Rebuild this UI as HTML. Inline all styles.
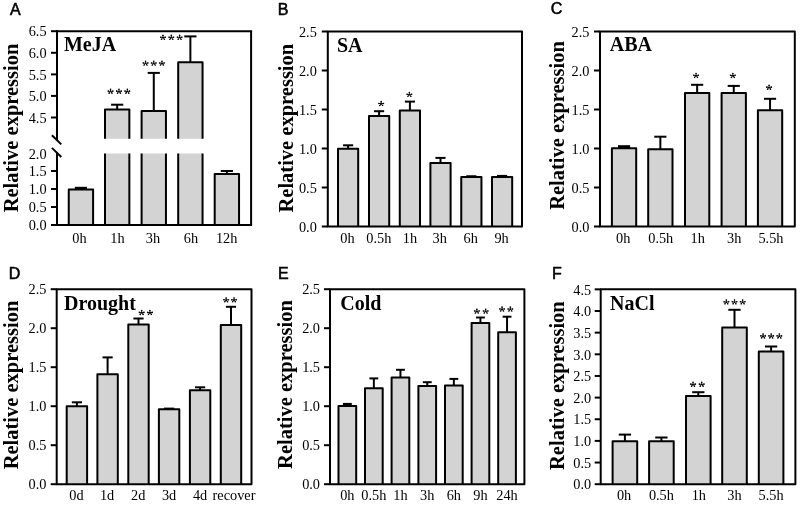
<!DOCTYPE html>
<html><head><meta charset="utf-8"><style>
html,body{margin:0;padding:0;background:#fff;overflow:hidden;}
svg{display:block;filter:grayscale(1);}
text{stroke:none;}
.tk{font-family:"Liberation Serif",serif;font-size:14.3px;fill:#000;}
.ti{font-family:"Liberation Serif",serif;font-size:20px;font-weight:bold;fill:#000;}
.yl{font-family:"Liberation Serif",serif;font-size:20.5px;font-weight:bold;fill:#000;}
.pl{font-family:"Liberation Sans",sans-serif;font-size:16px;font-weight:normal;fill:#000;stroke:#000;stroke-width:0.55px;}
</style></head><body>
<svg width="800" height="506" viewBox="0 0 800 506" stroke="#000" fill="none">
<g stroke="#000">
<path d="M68.75 225.00V189.50H93.10V225.00" fill="#d3d3d3" stroke-width="2.0" stroke-linejoin="round"/>
<rect x="74.84" y="186.80" width="12.18" height="2.70" fill="#000" stroke="none"/>
<rect x="105.00" y="109.60" width="24.35" height="29.20" fill="#d3d3d3" stroke="none"/>
<rect x="105.00" y="153.50" width="24.35" height="71.50" fill="#d3d3d3" stroke="none"/>
<path d="M105.00 138.80V109.60H129.35V138.80M105.00 225.00V153.50M129.35 153.50V225.00" fill="none" stroke-width="2.0" stroke-linejoin="round"/>
<line x1="117.17" y1="109.60" x2="117.17" y2="104.70" stroke-width="2.0" stroke-linecap="butt"/>
<line x1="111.09" y1="104.70" x2="123.26" y2="104.70" stroke-width="2.0" stroke-linecap="butt"/>
<rect x="141.60" y="110.90" width="24.35" height="27.90" fill="#d3d3d3" stroke="none"/>
<rect x="141.60" y="153.50" width="24.35" height="71.50" fill="#d3d3d3" stroke="none"/>
<path d="M141.60 138.80V110.90H165.95V138.80M141.60 225.00V153.50M165.95 153.50V225.00" fill="none" stroke-width="2.0" stroke-linejoin="round"/>
<line x1="153.78" y1="110.90" x2="153.78" y2="72.90" stroke-width="2.0" stroke-linecap="butt"/>
<line x1="147.69" y1="72.90" x2="159.86" y2="72.90" stroke-width="2.0" stroke-linecap="butt"/>
<rect x="178.20" y="62.20" width="24.35" height="76.60" fill="#d3d3d3" stroke="none"/>
<rect x="178.20" y="153.50" width="24.35" height="71.50" fill="#d3d3d3" stroke="none"/>
<path d="M178.20 138.80V62.20H202.55V138.80M178.20 225.00V153.50M202.55 153.50V225.00" fill="none" stroke-width="2.0" stroke-linejoin="round"/>
<line x1="190.38" y1="62.20" x2="190.38" y2="36.40" stroke-width="2.0" stroke-linecap="butt"/>
<line x1="184.29" y1="36.40" x2="196.46" y2="36.40" stroke-width="2.0" stroke-linecap="butt"/>
<path d="M214.70 225.00V174.00H239.05V225.00" fill="#d3d3d3" stroke-width="2.0" stroke-linejoin="round"/>
<line x1="226.88" y1="174.00" x2="226.88" y2="171.00" stroke-width="2.0" stroke-linecap="butt"/>
<line x1="220.79" y1="171.00" x2="232.96" y2="171.00" stroke-width="2.0" stroke-linecap="butt"/>
<line x1="56.00" y1="31.20" x2="252.10" y2="31.20" stroke-width="2.0" stroke-linecap="butt"/>
<line x1="251.10" y1="31.20" x2="251.10" y2="225.00" stroke-width="2.0" stroke-linecap="butt"/>
<line x1="51.00" y1="225.00" x2="252.10" y2="225.00" stroke-width="2.0" stroke-linecap="butt"/>
<line x1="57.00" y1="30.20" x2="57.00" y2="140.00" stroke-width="2.0" stroke-linecap="butt"/>
<line x1="57.00" y1="152.50" x2="57.00" y2="225.00" stroke-width="2.0" stroke-linecap="butt"/>
<line x1="51.90" y1="135.30" x2="61.30" y2="144.40" stroke-width="2.0" stroke-linecap="butt"/>
<line x1="51.90" y1="147.90" x2="61.30" y2="157.00" stroke-width="2.0" stroke-linecap="butt"/>
<line x1="51.00" y1="31.20" x2="57.00" y2="31.20" stroke-width="2.0" stroke-linecap="butt"/>
<text x="46.60" y="36.40" class="tk" text-anchor="end">6.5</text>
<line x1="51.00" y1="52.80" x2="57.00" y2="52.80" stroke-width="2.0" stroke-linecap="butt"/>
<text x="46.60" y="58.00" class="tk" text-anchor="end">6.0</text>
<line x1="51.00" y1="74.40" x2="57.00" y2="74.40" stroke-width="2.0" stroke-linecap="butt"/>
<text x="46.60" y="79.60" class="tk" text-anchor="end">5.5</text>
<line x1="51.00" y1="95.90" x2="57.00" y2="95.90" stroke-width="2.0" stroke-linecap="butt"/>
<text x="46.60" y="101.10" class="tk" text-anchor="end">5.0</text>
<line x1="51.00" y1="117.50" x2="57.00" y2="117.50" stroke-width="2.0" stroke-linecap="butt"/>
<text x="46.60" y="122.70" class="tk" text-anchor="end">4.5</text>
<line x1="51.00" y1="171.00" x2="57.00" y2="171.00" stroke-width="2.0" stroke-linecap="butt"/>
<text x="46.60" y="176.20" class="tk" text-anchor="end">1.5</text>
<line x1="51.00" y1="189.00" x2="57.00" y2="189.00" stroke-width="2.0" stroke-linecap="butt"/>
<text x="46.60" y="194.20" class="tk" text-anchor="end">1.0</text>
<line x1="51.00" y1="207.00" x2="57.00" y2="207.00" stroke-width="2.0" stroke-linecap="butt"/>
<text x="46.60" y="212.20" class="tk" text-anchor="end">0.5</text>
<line x1="51.00" y1="225.00" x2="57.00" y2="225.00" stroke-width="2.0" stroke-linecap="butt"/>
<text x="46.60" y="230.20" class="tk" text-anchor="end">0.0</text>
<text x="46.60" y="158.60" class="tk" text-anchor="end">2.0</text>
<text x="79.42" y="242.70" class="tk" text-anchor="middle">0h</text>
<text x="117.47" y="242.70" class="tk" text-anchor="middle">1h</text>
<text x="152.97" y="242.70" class="tk" text-anchor="middle">3h</text>
<text x="190.97" y="242.70" class="tk" text-anchor="middle">6h</text>
<text x="226.68" y="242.70" class="tk" text-anchor="middle">12h</text>
<text x="63.90" y="51.00" class="ti" text-anchor="start">MeJA</text>
<path d="M110.56 91.45L110.56 89.35M110.56 91.45L112.84 91.13M110.56 91.45L108.28 91.13M110.56 91.45L111.94 93.15M110.56 91.45L109.17 93.15" stroke-width="0.9" stroke-linecap="round" fill="none"/>
<circle cx="110.56" cy="89.35" r="0.78" fill="#000" stroke="none"/>
<circle cx="112.84" cy="91.13" r="0.78" fill="#000" stroke="none"/>
<circle cx="108.28" cy="91.13" r="0.78" fill="#000" stroke="none"/>
<circle cx="111.94" cy="93.15" r="0.78" fill="#000" stroke="none"/>
<circle cx="109.17" cy="93.15" r="0.78" fill="#000" stroke="none"/>
<path d="M118.95 91.45L118.95 89.35M118.95 91.45L121.23 91.13M118.95 91.45L116.67 91.13M118.95 91.45L120.33 93.15M118.95 91.45L117.57 93.15" stroke-width="0.9" stroke-linecap="round" fill="none"/>
<circle cx="118.95" cy="89.35" r="0.78" fill="#000" stroke="none"/>
<circle cx="121.23" cy="91.13" r="0.78" fill="#000" stroke="none"/>
<circle cx="116.67" cy="91.13" r="0.78" fill="#000" stroke="none"/>
<circle cx="120.33" cy="93.15" r="0.78" fill="#000" stroke="none"/>
<circle cx="117.57" cy="93.15" r="0.78" fill="#000" stroke="none"/>
<path d="M127.34 91.45L127.34 89.35M127.34 91.45L129.62 91.13M127.34 91.45L125.06 91.13M127.34 91.45L128.73 93.15M127.34 91.45L125.96 93.15" stroke-width="0.9" stroke-linecap="round" fill="none"/>
<circle cx="127.34" cy="89.35" r="0.78" fill="#000" stroke="none"/>
<circle cx="129.62" cy="91.13" r="0.78" fill="#000" stroke="none"/>
<circle cx="125.06" cy="91.13" r="0.78" fill="#000" stroke="none"/>
<circle cx="128.73" cy="93.15" r="0.78" fill="#000" stroke="none"/>
<circle cx="125.96" cy="93.15" r="0.78" fill="#000" stroke="none"/>
<path d="M145.56 63.35L145.56 61.25M145.56 63.35L147.84 63.03M145.56 63.35L143.28 63.03M145.56 63.35L146.94 65.05M145.56 63.35L144.17 65.05" stroke-width="0.9" stroke-linecap="round" fill="none"/>
<circle cx="145.56" cy="61.25" r="0.78" fill="#000" stroke="none"/>
<circle cx="147.84" cy="63.03" r="0.78" fill="#000" stroke="none"/>
<circle cx="143.28" cy="63.03" r="0.78" fill="#000" stroke="none"/>
<circle cx="146.94" cy="65.05" r="0.78" fill="#000" stroke="none"/>
<circle cx="144.17" cy="65.05" r="0.78" fill="#000" stroke="none"/>
<path d="M153.75 63.35L153.75 61.25M153.75 63.35L156.03 63.03M153.75 63.35L151.47 63.03M153.75 63.35L155.13 65.05M153.75 63.35L152.37 65.05" stroke-width="0.9" stroke-linecap="round" fill="none"/>
<circle cx="153.75" cy="61.25" r="0.78" fill="#000" stroke="none"/>
<circle cx="156.03" cy="63.03" r="0.78" fill="#000" stroke="none"/>
<circle cx="151.47" cy="63.03" r="0.78" fill="#000" stroke="none"/>
<circle cx="155.13" cy="65.05" r="0.78" fill="#000" stroke="none"/>
<circle cx="152.37" cy="65.05" r="0.78" fill="#000" stroke="none"/>
<path d="M161.94 63.35L161.94 61.25M161.94 63.35L164.22 63.03M161.94 63.35L159.66 63.03M161.94 63.35L163.33 65.05M161.94 63.35L160.56 65.05" stroke-width="0.9" stroke-linecap="round" fill="none"/>
<circle cx="161.94" cy="61.25" r="0.78" fill="#000" stroke="none"/>
<circle cx="164.22" cy="63.03" r="0.78" fill="#000" stroke="none"/>
<circle cx="159.66" cy="63.03" r="0.78" fill="#000" stroke="none"/>
<circle cx="163.33" cy="65.05" r="0.78" fill="#000" stroke="none"/>
<circle cx="160.56" cy="65.05" r="0.78" fill="#000" stroke="none"/>
<path d="M162.96 37.50L162.96 35.40M162.96 37.50L165.24 37.18M162.96 37.50L160.68 37.18M162.96 37.50L164.34 39.20M162.96 37.50L161.57 39.20" stroke-width="0.9" stroke-linecap="round" fill="none"/>
<circle cx="162.96" cy="35.40" r="0.78" fill="#000" stroke="none"/>
<circle cx="165.24" cy="37.18" r="0.78" fill="#000" stroke="none"/>
<circle cx="160.68" cy="37.18" r="0.78" fill="#000" stroke="none"/>
<circle cx="164.34" cy="39.20" r="0.78" fill="#000" stroke="none"/>
<circle cx="161.57" cy="39.20" r="0.78" fill="#000" stroke="none"/>
<path d="M171.30 37.50L171.30 35.40M171.30 37.50L173.58 37.18M171.30 37.50L169.02 37.18M171.30 37.50L172.68 39.20M171.30 37.50L169.92 39.20" stroke-width="0.9" stroke-linecap="round" fill="none"/>
<circle cx="171.30" cy="35.40" r="0.78" fill="#000" stroke="none"/>
<circle cx="173.58" cy="37.18" r="0.78" fill="#000" stroke="none"/>
<circle cx="169.02" cy="37.18" r="0.78" fill="#000" stroke="none"/>
<circle cx="172.68" cy="39.20" r="0.78" fill="#000" stroke="none"/>
<circle cx="169.92" cy="39.20" r="0.78" fill="#000" stroke="none"/>
<path d="M179.64 37.50L179.64 35.40M179.64 37.50L181.92 37.18M179.64 37.50L177.36 37.18M179.64 37.50L181.03 39.20M179.64 37.50L178.26 39.20" stroke-width="0.9" stroke-linecap="round" fill="none"/>
<circle cx="179.64" cy="35.40" r="0.78" fill="#000" stroke="none"/>
<circle cx="181.92" cy="37.18" r="0.78" fill="#000" stroke="none"/>
<circle cx="177.36" cy="37.18" r="0.78" fill="#000" stroke="none"/>
<circle cx="181.03" cy="39.20" r="0.78" fill="#000" stroke="none"/>
<circle cx="178.26" cy="39.20" r="0.78" fill="#000" stroke="none"/>
<text class="yl" transform="translate(17.80,127.95) rotate(-90)" text-anchor="middle" x="0" y="0">Relative expression</text>
<path d="M338.00 226.50V148.70H358.20V226.50" fill="#d3d3d3" stroke-width="2.0" stroke-linejoin="round"/>
<line x1="348.10" y1="148.70" x2="348.10" y2="145.30" stroke-width="2.0" stroke-linecap="butt"/>
<line x1="343.05" y1="145.30" x2="353.15" y2="145.30" stroke-width="2.0" stroke-linecap="butt"/>
<path d="M369.00 226.50V116.10H389.20V226.50" fill="#d3d3d3" stroke-width="2.0" stroke-linejoin="round"/>
<line x1="379.10" y1="116.10" x2="379.10" y2="111.20" stroke-width="2.0" stroke-linecap="butt"/>
<line x1="374.05" y1="111.20" x2="384.15" y2="111.20" stroke-width="2.0" stroke-linecap="butt"/>
<path d="M399.80 226.50V110.50H420.00V226.50" fill="#d3d3d3" stroke-width="2.0" stroke-linejoin="round"/>
<line x1="409.90" y1="110.50" x2="409.90" y2="101.60" stroke-width="2.0" stroke-linecap="butt"/>
<line x1="404.85" y1="101.60" x2="414.95" y2="101.60" stroke-width="2.0" stroke-linecap="butt"/>
<path d="M430.40 226.50V163.10H450.60V226.50" fill="#d3d3d3" stroke-width="2.0" stroke-linejoin="round"/>
<line x1="440.50" y1="163.10" x2="440.50" y2="157.90" stroke-width="2.0" stroke-linecap="butt"/>
<line x1="435.45" y1="157.90" x2="445.55" y2="157.90" stroke-width="2.0" stroke-linecap="butt"/>
<path d="M461.25 226.50V177.10H481.45V226.50" fill="#d3d3d3" stroke-width="2.0" stroke-linejoin="round"/>
<rect x="466.30" y="175.25" width="10.10" height="1.85" fill="#000" stroke="none"/>
<path d="M492.00 226.50V177.10H512.20V226.50" fill="#d3d3d3" stroke-width="2.0" stroke-linejoin="round"/>
<rect x="497.05" y="174.90" width="10.10" height="2.20" fill="#000" stroke="none"/>
<rect x="327.80" y="31.50" width="194.20" height="195.00" fill="none" stroke-width="2.0" stroke-linejoin="round"/>
<line x1="321.80" y1="226.50" x2="327.80" y2="226.50" stroke-width="2.0" stroke-linecap="butt"/>
<text x="316.80" y="231.70" class="tk" text-anchor="end">0.0</text>
<line x1="321.80" y1="187.50" x2="327.80" y2="187.50" stroke-width="2.0" stroke-linecap="butt"/>
<text x="316.80" y="192.70" class="tk" text-anchor="end">0.5</text>
<line x1="321.80" y1="148.50" x2="327.80" y2="148.50" stroke-width="2.0" stroke-linecap="butt"/>
<text x="316.80" y="153.70" class="tk" text-anchor="end">1.0</text>
<line x1="321.80" y1="109.50" x2="327.80" y2="109.50" stroke-width="2.0" stroke-linecap="butt"/>
<text x="316.80" y="114.70" class="tk" text-anchor="end">1.5</text>
<line x1="321.80" y1="70.50" x2="327.80" y2="70.50" stroke-width="2.0" stroke-linecap="butt"/>
<text x="316.80" y="75.70" class="tk" text-anchor="end">2.0</text>
<line x1="321.80" y1="31.50" x2="327.80" y2="31.50" stroke-width="2.0" stroke-linecap="butt"/>
<text x="316.80" y="36.70" class="tk" text-anchor="end">2.5</text>
<text x="347.50" y="242.60" class="tk" text-anchor="middle">0h</text>
<text x="378.80" y="242.60" class="tk" text-anchor="middle">0.5h</text>
<text x="409.90" y="242.60" class="tk" text-anchor="middle">1h</text>
<text x="439.70" y="242.60" class="tk" text-anchor="middle">3h</text>
<text x="470.75" y="242.60" class="tk" text-anchor="middle">6h</text>
<text x="501.60" y="242.60" class="tk" text-anchor="middle">9h</text>
<text x="337.00" y="52.30" class="ti" text-anchor="start">SA</text>
<text class="yl" transform="translate(292.50,128.15) rotate(-90)" text-anchor="middle" x="0" y="0">Relative expression</text>
<path d="M381.16 103.75L381.16 101.65M381.16 103.75L383.44 103.43M381.16 103.75L378.88 103.43M381.16 103.75L382.54 105.45M381.16 103.75L379.77 105.45" stroke-width="0.9" stroke-linecap="round" fill="none"/>
<circle cx="381.16" cy="101.65" r="0.78" fill="#000" stroke="none"/>
<circle cx="383.44" cy="103.43" r="0.78" fill="#000" stroke="none"/>
<circle cx="378.88" cy="103.43" r="0.78" fill="#000" stroke="none"/>
<circle cx="382.54" cy="105.45" r="0.78" fill="#000" stroke="none"/>
<circle cx="379.77" cy="105.45" r="0.78" fill="#000" stroke="none"/>
<path d="M409.36 94.60L409.36 92.50M409.36 94.60L411.64 94.28M409.36 94.60L407.08 94.28M409.36 94.60L410.74 96.30M409.36 94.60L407.97 96.30" stroke-width="0.9" stroke-linecap="round" fill="none"/>
<circle cx="409.36" cy="92.50" r="0.78" fill="#000" stroke="none"/>
<circle cx="411.64" cy="94.28" r="0.78" fill="#000" stroke="none"/>
<circle cx="407.08" cy="94.28" r="0.78" fill="#000" stroke="none"/>
<circle cx="410.74" cy="96.30" r="0.78" fill="#000" stroke="none"/>
<circle cx="407.97" cy="96.30" r="0.78" fill="#000" stroke="none"/>
<path d="M611.90 226.50V148.30H636.20V226.50" fill="#d3d3d3" stroke-width="2.0" stroke-linejoin="round"/>
<rect x="617.97" y="145.20" width="12.15" height="3.10" fill="#000" stroke="none"/>
<path d="M648.20 226.50V149.30H672.50V226.50" fill="#d3d3d3" stroke-width="2.0" stroke-linejoin="round"/>
<line x1="660.35" y1="149.30" x2="660.35" y2="136.70" stroke-width="2.0" stroke-linecap="butt"/>
<line x1="654.27" y1="136.70" x2="666.43" y2="136.70" stroke-width="2.0" stroke-linecap="butt"/>
<path d="M685.00 226.50V93.00H709.30V226.50" fill="#d3d3d3" stroke-width="2.0" stroke-linejoin="round"/>
<line x1="697.15" y1="93.00" x2="697.15" y2="84.80" stroke-width="2.0" stroke-linecap="butt"/>
<line x1="691.07" y1="84.80" x2="703.23" y2="84.80" stroke-width="2.0" stroke-linecap="butt"/>
<path d="M721.60 226.50V93.00H745.90V226.50" fill="#d3d3d3" stroke-width="2.0" stroke-linejoin="round"/>
<line x1="733.75" y1="93.00" x2="733.75" y2="85.90" stroke-width="2.0" stroke-linecap="butt"/>
<line x1="727.67" y1="85.90" x2="739.83" y2="85.90" stroke-width="2.0" stroke-linecap="butt"/>
<path d="M757.90 226.50V110.20H782.20V226.50" fill="#d3d3d3" stroke-width="2.0" stroke-linejoin="round"/>
<line x1="770.05" y1="110.20" x2="770.05" y2="98.80" stroke-width="2.0" stroke-linecap="butt"/>
<line x1="763.97" y1="98.80" x2="776.12" y2="98.80" stroke-width="2.0" stroke-linecap="butt"/>
<rect x="600.00" y="31.50" width="194.80" height="195.00" fill="none" stroke-width="2.0" stroke-linejoin="round"/>
<line x1="594.00" y1="226.50" x2="600.00" y2="226.50" stroke-width="2.0" stroke-linecap="butt"/>
<text x="589.40" y="231.70" class="tk" text-anchor="end">0.0</text>
<line x1="594.00" y1="187.50" x2="600.00" y2="187.50" stroke-width="2.0" stroke-linecap="butt"/>
<text x="589.40" y="192.70" class="tk" text-anchor="end">0.5</text>
<line x1="594.00" y1="148.50" x2="600.00" y2="148.50" stroke-width="2.0" stroke-linecap="butt"/>
<text x="589.40" y="153.70" class="tk" text-anchor="end">1.0</text>
<line x1="594.00" y1="109.50" x2="600.00" y2="109.50" stroke-width="2.0" stroke-linecap="butt"/>
<text x="589.40" y="114.70" class="tk" text-anchor="end">1.5</text>
<line x1="594.00" y1="70.50" x2="600.00" y2="70.50" stroke-width="2.0" stroke-linecap="butt"/>
<text x="589.40" y="75.70" class="tk" text-anchor="end">2.0</text>
<line x1="594.00" y1="31.50" x2="600.00" y2="31.50" stroke-width="2.0" stroke-linecap="butt"/>
<text x="589.40" y="36.70" class="tk" text-anchor="end">2.5</text>
<text x="623.15" y="242.60" class="tk" text-anchor="middle">0h</text>
<text x="660.75" y="242.60" class="tk" text-anchor="middle">0.5h</text>
<text x="697.65" y="242.60" class="tk" text-anchor="middle">1h</text>
<text x="734.15" y="242.60" class="tk" text-anchor="middle">3h</text>
<text x="770.95" y="242.60" class="tk" text-anchor="middle">5.5h</text>
<text x="609.75" y="50.60" class="ti" text-anchor="start">ABA</text>
<text class="yl" transform="translate(563.70,125.45) rotate(-90)" text-anchor="middle" x="0" y="0">Relative expression</text>
<path d="M696.06 75.65L696.06 73.55M696.06 75.65L698.34 75.33M696.06 75.65L693.78 75.33M696.06 75.65L697.44 77.35M696.06 75.65L694.67 77.35" stroke-width="0.9" stroke-linecap="round" fill="none"/>
<circle cx="696.06" cy="73.55" r="0.78" fill="#000" stroke="none"/>
<circle cx="698.34" cy="75.33" r="0.78" fill="#000" stroke="none"/>
<circle cx="693.78" cy="75.33" r="0.78" fill="#000" stroke="none"/>
<circle cx="697.44" cy="77.35" r="0.78" fill="#000" stroke="none"/>
<circle cx="694.67" cy="77.35" r="0.78" fill="#000" stroke="none"/>
<path d="M732.86 75.65L732.86 73.55M732.86 75.65L735.14 75.33M732.86 75.65L730.58 75.33M732.86 75.65L734.24 77.35M732.86 75.65L731.47 77.35" stroke-width="0.9" stroke-linecap="round" fill="none"/>
<circle cx="732.86" cy="73.55" r="0.78" fill="#000" stroke="none"/>
<circle cx="735.14" cy="75.33" r="0.78" fill="#000" stroke="none"/>
<circle cx="730.58" cy="75.33" r="0.78" fill="#000" stroke="none"/>
<circle cx="734.24" cy="77.35" r="0.78" fill="#000" stroke="none"/>
<circle cx="731.47" cy="77.35" r="0.78" fill="#000" stroke="none"/>
<path d="M769.06 87.45L769.06 85.35M769.06 87.45L771.34 87.13M769.06 87.45L766.78 87.13M769.06 87.45L770.44 89.15M769.06 87.45L767.67 89.15" stroke-width="0.9" stroke-linecap="round" fill="none"/>
<circle cx="769.06" cy="85.35" r="0.78" fill="#000" stroke="none"/>
<circle cx="771.34" cy="87.13" r="0.78" fill="#000" stroke="none"/>
<circle cx="766.78" cy="87.13" r="0.78" fill="#000" stroke="none"/>
<circle cx="770.44" cy="89.15" r="0.78" fill="#000" stroke="none"/>
<circle cx="767.67" cy="89.15" r="0.78" fill="#000" stroke="none"/>
<path d="M66.70 484.20V406.20H87.10V484.20" fill="#d3d3d3" stroke-width="2.0" stroke-linejoin="round"/>
<line x1="76.90" y1="406.20" x2="76.90" y2="402.30" stroke-width="2.0" stroke-linecap="butt"/>
<line x1="71.80" y1="402.30" x2="82.00" y2="402.30" stroke-width="2.0" stroke-linecap="butt"/>
<path d="M97.40 484.20V374.30H117.80V484.20" fill="#d3d3d3" stroke-width="2.0" stroke-linejoin="round"/>
<line x1="107.60" y1="374.30" x2="107.60" y2="357.40" stroke-width="2.0" stroke-linecap="butt"/>
<line x1="102.50" y1="357.40" x2="112.70" y2="357.40" stroke-width="2.0" stroke-linecap="butt"/>
<path d="M128.30 484.20V324.40H148.70V484.20" fill="#d3d3d3" stroke-width="2.0" stroke-linejoin="round"/>
<line x1="138.50" y1="324.40" x2="138.50" y2="318.50" stroke-width="2.0" stroke-linecap="butt"/>
<line x1="133.40" y1="318.50" x2="143.60" y2="318.50" stroke-width="2.0" stroke-linecap="butt"/>
<path d="M158.90 484.20V409.30H179.30V484.20" fill="#d3d3d3" stroke-width="2.0" stroke-linejoin="round"/>
<rect x="164.00" y="407.60" width="10.20" height="1.70" fill="#000" stroke="none"/>
<path d="M189.90 484.20V390.20H210.30V484.20" fill="#d3d3d3" stroke-width="2.0" stroke-linejoin="round"/>
<line x1="200.10" y1="390.20" x2="200.10" y2="387.30" stroke-width="2.0" stroke-linecap="butt"/>
<line x1="195.00" y1="387.30" x2="205.20" y2="387.30" stroke-width="2.0" stroke-linecap="butt"/>
<path d="M220.80 484.20V324.90H241.20V484.20" fill="#d3d3d3" stroke-width="2.0" stroke-linejoin="round"/>
<line x1="231.00" y1="324.90" x2="231.00" y2="306.80" stroke-width="2.0" stroke-linecap="butt"/>
<line x1="225.90" y1="306.80" x2="236.10" y2="306.80" stroke-width="2.0" stroke-linecap="butt"/>
<rect x="56.70" y="289.30" width="194.80" height="194.90" fill="none" stroke-width="2.0" stroke-linejoin="round"/>
<line x1="50.70" y1="484.20" x2="56.70" y2="484.20" stroke-width="2.0" stroke-linecap="butt"/>
<text x="46.40" y="489.40" class="tk" text-anchor="end">0.0</text>
<line x1="50.70" y1="445.20" x2="56.70" y2="445.20" stroke-width="2.0" stroke-linecap="butt"/>
<text x="46.40" y="450.40" class="tk" text-anchor="end">0.5</text>
<line x1="50.70" y1="406.20" x2="56.70" y2="406.20" stroke-width="2.0" stroke-linecap="butt"/>
<text x="46.40" y="411.40" class="tk" text-anchor="end">1.0</text>
<line x1="50.70" y1="367.20" x2="56.70" y2="367.20" stroke-width="2.0" stroke-linecap="butt"/>
<text x="46.40" y="372.40" class="tk" text-anchor="end">1.5</text>
<line x1="50.70" y1="328.20" x2="56.70" y2="328.20" stroke-width="2.0" stroke-linecap="butt"/>
<text x="46.40" y="333.40" class="tk" text-anchor="end">2.0</text>
<line x1="50.70" y1="289.20" x2="56.70" y2="289.20" stroke-width="2.0" stroke-linecap="butt"/>
<text x="46.40" y="294.40" class="tk" text-anchor="end">2.5</text>
<text x="76.40" y="500.00" class="tk" text-anchor="middle">0d</text>
<text x="107.10" y="500.00" class="tk" text-anchor="middle">1d</text>
<text x="138.20" y="500.00" class="tk" text-anchor="middle">2d</text>
<text x="169.10" y="500.00" class="tk" text-anchor="middle">3d</text>
<text x="200.10" y="500.00" class="tk" text-anchor="middle">4d</text>
<text x="234.00" y="500.00" class="tk" text-anchor="middle">recover</text>
<text x="64.00" y="309.60" class="ti" text-anchor="start">Drought</text>
<text class="yl" transform="translate(17.80,385.00) rotate(-90)" text-anchor="middle" x="0" y="0">Relative expression</text>
<path d="M141.66 312.70L141.66 310.60M141.66 312.70L143.94 312.38M141.66 312.70L139.38 312.38M141.66 312.70L143.04 314.40M141.66 312.70L140.27 314.40" stroke-width="0.9" stroke-linecap="round" fill="none"/>
<circle cx="141.66" cy="310.60" r="0.78" fill="#000" stroke="none"/>
<circle cx="143.94" cy="312.38" r="0.78" fill="#000" stroke="none"/>
<circle cx="139.38" cy="312.38" r="0.78" fill="#000" stroke="none"/>
<circle cx="143.04" cy="314.40" r="0.78" fill="#000" stroke="none"/>
<circle cx="140.27" cy="314.40" r="0.78" fill="#000" stroke="none"/>
<path d="M149.94 312.70L149.94 310.60M149.94 312.70L152.22 312.38M149.94 312.70L147.66 312.38M149.94 312.70L151.33 314.40M149.94 312.70L148.56 314.40" stroke-width="0.9" stroke-linecap="round" fill="none"/>
<circle cx="149.94" cy="310.60" r="0.78" fill="#000" stroke="none"/>
<circle cx="152.22" cy="312.38" r="0.78" fill="#000" stroke="none"/>
<circle cx="147.66" cy="312.38" r="0.78" fill="#000" stroke="none"/>
<circle cx="151.33" cy="314.40" r="0.78" fill="#000" stroke="none"/>
<circle cx="148.56" cy="314.40" r="0.78" fill="#000" stroke="none"/>
<path d="M226.16 300.10L226.16 298.00M226.16 300.10L228.44 299.78M226.16 300.10L223.88 299.78M226.16 300.10L227.54 301.80M226.16 300.10L224.77 301.80" stroke-width="0.9" stroke-linecap="round" fill="none"/>
<circle cx="226.16" cy="298.00" r="0.78" fill="#000" stroke="none"/>
<circle cx="228.44" cy="299.78" r="0.78" fill="#000" stroke="none"/>
<circle cx="223.88" cy="299.78" r="0.78" fill="#000" stroke="none"/>
<circle cx="227.54" cy="301.80" r="0.78" fill="#000" stroke="none"/>
<circle cx="224.77" cy="301.80" r="0.78" fill="#000" stroke="none"/>
<path d="M234.04 300.10L234.04 298.00M234.04 300.10L236.32 299.78M234.04 300.10L231.76 299.78M234.04 300.10L235.43 301.80M234.04 300.10L232.66 301.80" stroke-width="0.9" stroke-linecap="round" fill="none"/>
<circle cx="234.04" cy="298.00" r="0.78" fill="#000" stroke="none"/>
<circle cx="236.32" cy="299.78" r="0.78" fill="#000" stroke="none"/>
<circle cx="231.76" cy="299.78" r="0.78" fill="#000" stroke="none"/>
<circle cx="235.43" cy="301.80" r="0.78" fill="#000" stroke="none"/>
<circle cx="232.66" cy="301.80" r="0.78" fill="#000" stroke="none"/>
<path d="M338.50 484.20V406.00H356.20V484.20" fill="#d3d3d3" stroke-width="2.0" stroke-linejoin="round"/>
<rect x="342.93" y="402.90" width="8.85" height="3.10" fill="#000" stroke="none"/>
<path d="M365.00 484.20V388.20H382.70V484.20" fill="#d3d3d3" stroke-width="2.0" stroke-linejoin="round"/>
<line x1="373.85" y1="388.20" x2="373.85" y2="378.40" stroke-width="2.0" stroke-linecap="butt"/>
<line x1="369.43" y1="378.40" x2="378.28" y2="378.40" stroke-width="2.0" stroke-linecap="butt"/>
<path d="M391.60 484.20V377.50H409.30V484.20" fill="#d3d3d3" stroke-width="2.0" stroke-linejoin="round"/>
<line x1="400.45" y1="377.50" x2="400.45" y2="369.80" stroke-width="2.0" stroke-linecap="butt"/>
<line x1="396.03" y1="369.80" x2="404.88" y2="369.80" stroke-width="2.0" stroke-linecap="butt"/>
<path d="M418.40 484.20V386.00H436.10V484.20" fill="#d3d3d3" stroke-width="2.0" stroke-linejoin="round"/>
<line x1="427.25" y1="386.00" x2="427.25" y2="382.20" stroke-width="2.0" stroke-linecap="butt"/>
<line x1="422.82" y1="382.20" x2="431.68" y2="382.20" stroke-width="2.0" stroke-linecap="butt"/>
<path d="M445.00 484.20V385.50H462.70V484.20" fill="#d3d3d3" stroke-width="2.0" stroke-linejoin="round"/>
<line x1="453.85" y1="385.50" x2="453.85" y2="378.90" stroke-width="2.0" stroke-linecap="butt"/>
<line x1="449.43" y1="378.90" x2="458.28" y2="378.90" stroke-width="2.0" stroke-linecap="butt"/>
<path d="M471.60 484.20V323.10H489.30V484.20" fill="#d3d3d3" stroke-width="2.0" stroke-linejoin="round"/>
<line x1="480.45" y1="323.10" x2="480.45" y2="317.50" stroke-width="2.0" stroke-linecap="butt"/>
<line x1="476.03" y1="317.50" x2="484.88" y2="317.50" stroke-width="2.0" stroke-linecap="butt"/>
<path d="M498.20 484.20V332.30H515.90V484.20" fill="#d3d3d3" stroke-width="2.0" stroke-linejoin="round"/>
<line x1="507.05" y1="332.30" x2="507.05" y2="316.70" stroke-width="2.0" stroke-linecap="butt"/>
<line x1="502.62" y1="316.70" x2="511.48" y2="316.70" stroke-width="2.0" stroke-linecap="butt"/>
<rect x="330.00" y="289.30" width="194.40" height="194.90" fill="none" stroke-width="2.0" stroke-linejoin="round"/>
<line x1="324.00" y1="484.20" x2="330.00" y2="484.20" stroke-width="2.0" stroke-linecap="butt"/>
<text x="320.00" y="489.40" class="tk" text-anchor="end">0.0</text>
<line x1="324.00" y1="445.20" x2="330.00" y2="445.20" stroke-width="2.0" stroke-linecap="butt"/>
<text x="320.00" y="450.40" class="tk" text-anchor="end">0.5</text>
<line x1="324.00" y1="406.20" x2="330.00" y2="406.20" stroke-width="2.0" stroke-linecap="butt"/>
<text x="320.00" y="411.40" class="tk" text-anchor="end">1.0</text>
<line x1="324.00" y1="367.20" x2="330.00" y2="367.20" stroke-width="2.0" stroke-linecap="butt"/>
<text x="320.00" y="372.40" class="tk" text-anchor="end">1.5</text>
<line x1="324.00" y1="328.20" x2="330.00" y2="328.20" stroke-width="2.0" stroke-linecap="butt"/>
<text x="320.00" y="333.40" class="tk" text-anchor="end">2.0</text>
<line x1="324.00" y1="289.20" x2="330.00" y2="289.20" stroke-width="2.0" stroke-linecap="butt"/>
<text x="320.00" y="294.40" class="tk" text-anchor="end">2.5</text>
<text x="347.35" y="500.00" class="tk" text-anchor="middle">0h</text>
<text x="373.85" y="500.00" class="tk" text-anchor="middle">0.5h</text>
<text x="400.45" y="500.00" class="tk" text-anchor="middle">1h</text>
<text x="427.25" y="500.00" class="tk" text-anchor="middle">3h</text>
<text x="453.85" y="500.00" class="tk" text-anchor="middle">6h</text>
<text x="480.45" y="500.00" class="tk" text-anchor="middle">9h</text>
<text x="507.05" y="500.00" class="tk" text-anchor="middle">24h</text>
<text x="340.20" y="310.10" class="ti" text-anchor="start">Cold</text>
<text class="yl" transform="translate(292.10,384.55) rotate(-90)" text-anchor="middle" x="0" y="0">Relative expression</text>
<path d="M476.86 311.30L476.86 309.20M476.86 311.30L479.14 310.98M476.86 311.30L474.58 310.98M476.86 311.30L478.24 313.00M476.86 311.30L475.47 313.00" stroke-width="0.9" stroke-linecap="round" fill="none"/>
<circle cx="476.86" cy="309.20" r="0.78" fill="#000" stroke="none"/>
<circle cx="479.14" cy="310.98" r="0.78" fill="#000" stroke="none"/>
<circle cx="474.58" cy="310.98" r="0.78" fill="#000" stroke="none"/>
<circle cx="478.24" cy="313.00" r="0.78" fill="#000" stroke="none"/>
<circle cx="475.47" cy="313.00" r="0.78" fill="#000" stroke="none"/>
<path d="M485.64 311.30L485.64 309.20M485.64 311.30L487.92 310.98M485.64 311.30L483.36 310.98M485.64 311.30L487.03 313.00M485.64 311.30L484.26 313.00" stroke-width="0.9" stroke-linecap="round" fill="none"/>
<circle cx="485.64" cy="309.20" r="0.78" fill="#000" stroke="none"/>
<circle cx="487.92" cy="310.98" r="0.78" fill="#000" stroke="none"/>
<circle cx="483.36" cy="310.98" r="0.78" fill="#000" stroke="none"/>
<circle cx="487.03" cy="313.00" r="0.78" fill="#000" stroke="none"/>
<circle cx="484.26" cy="313.00" r="0.78" fill="#000" stroke="none"/>
<path d="M502.06 309.25L502.06 307.15M502.06 309.25L504.34 308.93M502.06 309.25L499.78 308.93M502.06 309.25L503.44 310.95M502.06 309.25L500.67 310.95" stroke-width="0.9" stroke-linecap="round" fill="none"/>
<circle cx="502.06" cy="307.15" r="0.78" fill="#000" stroke="none"/>
<circle cx="504.34" cy="308.93" r="0.78" fill="#000" stroke="none"/>
<circle cx="499.78" cy="308.93" r="0.78" fill="#000" stroke="none"/>
<circle cx="503.44" cy="310.95" r="0.78" fill="#000" stroke="none"/>
<circle cx="500.67" cy="310.95" r="0.78" fill="#000" stroke="none"/>
<path d="M510.34 309.25L510.34 307.15M510.34 309.25L512.62 308.93M510.34 309.25L508.06 308.93M510.34 309.25L511.73 310.95M510.34 309.25L508.96 310.95" stroke-width="0.9" stroke-linecap="round" fill="none"/>
<circle cx="510.34" cy="307.15" r="0.78" fill="#000" stroke="none"/>
<circle cx="512.62" cy="308.93" r="0.78" fill="#000" stroke="none"/>
<circle cx="508.06" cy="308.93" r="0.78" fill="#000" stroke="none"/>
<circle cx="511.73" cy="310.95" r="0.78" fill="#000" stroke="none"/>
<circle cx="508.96" cy="310.95" r="0.78" fill="#000" stroke="none"/>
<path d="M612.60 484.20V441.30H637.20V484.20" fill="#d3d3d3" stroke-width="2.0" stroke-linejoin="round"/>
<line x1="624.90" y1="441.30" x2="624.90" y2="434.60" stroke-width="2.0" stroke-linecap="butt"/>
<line x1="618.75" y1="434.60" x2="631.05" y2="434.60" stroke-width="2.0" stroke-linecap="butt"/>
<path d="M649.10 484.20V441.30H673.70V484.20" fill="#d3d3d3" stroke-width="2.0" stroke-linejoin="round"/>
<line x1="661.40" y1="441.30" x2="661.40" y2="437.50" stroke-width="2.0" stroke-linecap="butt"/>
<line x1="655.25" y1="437.50" x2="667.55" y2="437.50" stroke-width="2.0" stroke-linecap="butt"/>
<path d="M686.00 484.20V396.00H710.60V484.20" fill="#d3d3d3" stroke-width="2.0" stroke-linejoin="round"/>
<line x1="698.30" y1="396.00" x2="698.30" y2="392.20" stroke-width="2.0" stroke-linecap="butt"/>
<line x1="692.15" y1="392.20" x2="704.45" y2="392.20" stroke-width="2.0" stroke-linecap="butt"/>
<path d="M722.20 484.20V327.40H746.80V484.20" fill="#d3d3d3" stroke-width="2.0" stroke-linejoin="round"/>
<line x1="734.50" y1="327.40" x2="734.50" y2="309.80" stroke-width="2.0" stroke-linecap="butt"/>
<line x1="728.35" y1="309.80" x2="740.65" y2="309.80" stroke-width="2.0" stroke-linecap="butt"/>
<path d="M758.80 484.20V351.60H783.40V484.20" fill="#d3d3d3" stroke-width="2.0" stroke-linejoin="round"/>
<line x1="771.10" y1="351.60" x2="771.10" y2="346.50" stroke-width="2.0" stroke-linecap="butt"/>
<line x1="764.95" y1="346.50" x2="777.25" y2="346.50" stroke-width="2.0" stroke-linecap="butt"/>
<rect x="600.70" y="289.30" width="194.70" height="194.90" fill="none" stroke-width="2.0" stroke-linejoin="round"/>
<line x1="594.70" y1="484.20" x2="600.70" y2="484.20" stroke-width="2.0" stroke-linecap="butt"/>
<text x="591.20" y="489.40" class="tk" text-anchor="end">0.0</text>
<line x1="594.70" y1="462.55" x2="600.70" y2="462.55" stroke-width="2.0" stroke-linecap="butt"/>
<text x="591.20" y="467.75" class="tk" text-anchor="end">0.5</text>
<line x1="594.70" y1="440.90" x2="600.70" y2="440.90" stroke-width="2.0" stroke-linecap="butt"/>
<text x="591.20" y="446.10" class="tk" text-anchor="end">1.0</text>
<line x1="594.70" y1="419.25" x2="600.70" y2="419.25" stroke-width="2.0" stroke-linecap="butt"/>
<text x="591.20" y="424.45" class="tk" text-anchor="end">1.5</text>
<line x1="594.70" y1="397.60" x2="600.70" y2="397.60" stroke-width="2.0" stroke-linecap="butt"/>
<text x="591.20" y="402.80" class="tk" text-anchor="end">2.0</text>
<line x1="594.70" y1="375.95" x2="600.70" y2="375.95" stroke-width="2.0" stroke-linecap="butt"/>
<text x="591.20" y="381.15" class="tk" text-anchor="end">2.5</text>
<line x1="594.70" y1="354.30" x2="600.70" y2="354.30" stroke-width="2.0" stroke-linecap="butt"/>
<text x="591.20" y="359.50" class="tk" text-anchor="end">3.0</text>
<line x1="594.70" y1="332.65" x2="600.70" y2="332.65" stroke-width="2.0" stroke-linecap="butt"/>
<text x="591.20" y="337.85" class="tk" text-anchor="end">3.5</text>
<line x1="594.70" y1="311.00" x2="600.70" y2="311.00" stroke-width="2.0" stroke-linecap="butt"/>
<text x="591.20" y="316.20" class="tk" text-anchor="end">4.0</text>
<line x1="594.70" y1="289.35" x2="600.70" y2="289.35" stroke-width="2.0" stroke-linecap="butt"/>
<text x="591.20" y="294.55" class="tk" text-anchor="end">4.5</text>
<text x="624.10" y="500.00" class="tk" text-anchor="middle">0h</text>
<text x="661.40" y="500.00" class="tk" text-anchor="middle">0.5h</text>
<text x="698.80" y="500.00" class="tk" text-anchor="middle">1h</text>
<text x="734.50" y="500.00" class="tk" text-anchor="middle">3h</text>
<text x="771.10" y="500.00" class="tk" text-anchor="middle">5.5h</text>
<text x="610.00" y="309.65" class="ti" text-anchor="start">NaCl</text>
<text class="yl" transform="translate(563.70,385.60) rotate(-90)" text-anchor="middle" x="0" y="0">Relative expression</text>
<path d="M693.06 384.45L693.06 382.35M693.06 384.45L695.34 384.13M693.06 384.45L690.78 384.13M693.06 384.45L694.44 386.15M693.06 384.45L691.67 386.15" stroke-width="0.9" stroke-linecap="round" fill="none"/>
<circle cx="693.06" cy="382.35" r="0.78" fill="#000" stroke="none"/>
<circle cx="695.34" cy="384.13" r="0.78" fill="#000" stroke="none"/>
<circle cx="690.78" cy="384.13" r="0.78" fill="#000" stroke="none"/>
<circle cx="694.44" cy="386.15" r="0.78" fill="#000" stroke="none"/>
<circle cx="691.67" cy="386.15" r="0.78" fill="#000" stroke="none"/>
<path d="M701.69 384.45L701.69 382.35M701.69 384.45L703.97 384.13M701.69 384.45L699.41 384.13M701.69 384.45L703.08 386.15M701.69 384.45L700.31 386.15" stroke-width="0.9" stroke-linecap="round" fill="none"/>
<circle cx="701.69" cy="382.35" r="0.78" fill="#000" stroke="none"/>
<circle cx="703.97" cy="384.13" r="0.78" fill="#000" stroke="none"/>
<circle cx="699.41" cy="384.13" r="0.78" fill="#000" stroke="none"/>
<circle cx="703.08" cy="386.15" r="0.78" fill="#000" stroke="none"/>
<circle cx="700.31" cy="386.15" r="0.78" fill="#000" stroke="none"/>
<path d="M726.36 302.15L726.36 300.05M726.36 302.15L728.64 301.83M726.36 302.15L724.08 301.83M726.36 302.15L727.74 303.85M726.36 302.15L724.97 303.85" stroke-width="0.9" stroke-linecap="round" fill="none"/>
<circle cx="726.36" cy="300.05" r="0.78" fill="#000" stroke="none"/>
<circle cx="728.64" cy="301.83" r="0.78" fill="#000" stroke="none"/>
<circle cx="724.08" cy="301.83" r="0.78" fill="#000" stroke="none"/>
<circle cx="727.74" cy="303.85" r="0.78" fill="#000" stroke="none"/>
<circle cx="724.97" cy="303.85" r="0.78" fill="#000" stroke="none"/>
<path d="M734.50 302.15L734.50 300.05M734.50 302.15L736.78 301.83M734.50 302.15L732.22 301.83M734.50 302.15L735.88 303.85M734.50 302.15L733.12 303.85" stroke-width="0.9" stroke-linecap="round" fill="none"/>
<circle cx="734.50" cy="300.05" r="0.78" fill="#000" stroke="none"/>
<circle cx="736.78" cy="301.83" r="0.78" fill="#000" stroke="none"/>
<circle cx="732.22" cy="301.83" r="0.78" fill="#000" stroke="none"/>
<circle cx="735.88" cy="303.85" r="0.78" fill="#000" stroke="none"/>
<circle cx="733.12" cy="303.85" r="0.78" fill="#000" stroke="none"/>
<path d="M742.64 302.15L742.64 300.05M742.64 302.15L744.92 301.83M742.64 302.15L740.36 301.83M742.64 302.15L744.03 303.85M742.64 302.15L741.26 303.85" stroke-width="0.9" stroke-linecap="round" fill="none"/>
<circle cx="742.64" cy="300.05" r="0.78" fill="#000" stroke="none"/>
<circle cx="744.92" cy="301.83" r="0.78" fill="#000" stroke="none"/>
<circle cx="740.36" cy="301.83" r="0.78" fill="#000" stroke="none"/>
<circle cx="744.03" cy="303.85" r="0.78" fill="#000" stroke="none"/>
<circle cx="741.26" cy="303.85" r="0.78" fill="#000" stroke="none"/>
<path d="M763.06 336.20L763.06 334.10M763.06 336.20L765.34 335.88M763.06 336.20L760.78 335.88M763.06 336.20L764.44 337.90M763.06 336.20L761.67 337.90" stroke-width="0.9" stroke-linecap="round" fill="none"/>
<circle cx="763.06" cy="334.10" r="0.78" fill="#000" stroke="none"/>
<circle cx="765.34" cy="335.88" r="0.78" fill="#000" stroke="none"/>
<circle cx="760.78" cy="335.88" r="0.78" fill="#000" stroke="none"/>
<circle cx="764.44" cy="337.90" r="0.78" fill="#000" stroke="none"/>
<circle cx="761.67" cy="337.90" r="0.78" fill="#000" stroke="none"/>
<path d="M771.20 336.20L771.20 334.10M771.20 336.20L773.48 335.88M771.20 336.20L768.92 335.88M771.20 336.20L772.58 337.90M771.20 336.20L769.82 337.90" stroke-width="0.9" stroke-linecap="round" fill="none"/>
<circle cx="771.20" cy="334.10" r="0.78" fill="#000" stroke="none"/>
<circle cx="773.48" cy="335.88" r="0.78" fill="#000" stroke="none"/>
<circle cx="768.92" cy="335.88" r="0.78" fill="#000" stroke="none"/>
<circle cx="772.58" cy="337.90" r="0.78" fill="#000" stroke="none"/>
<circle cx="769.82" cy="337.90" r="0.78" fill="#000" stroke="none"/>
<path d="M779.34 336.20L779.34 334.10M779.34 336.20L781.62 335.88M779.34 336.20L777.06 335.88M779.34 336.20L780.73 337.90M779.34 336.20L777.96 337.90" stroke-width="0.9" stroke-linecap="round" fill="none"/>
<circle cx="779.34" cy="334.10" r="0.78" fill="#000" stroke="none"/>
<circle cx="781.62" cy="335.88" r="0.78" fill="#000" stroke="none"/>
<circle cx="777.06" cy="335.88" r="0.78" fill="#000" stroke="none"/>
<circle cx="780.73" cy="337.90" r="0.78" fill="#000" stroke="none"/>
<circle cx="777.96" cy="337.90" r="0.78" fill="#000" stroke="none"/>
<text x="10.10" y="14.90" class="pl" text-anchor="start">A</text>
<text x="277.80" y="14.80" class="pl" text-anchor="start">B</text>
<text x="550.80" y="13.80" class="pl" text-anchor="start">C</text>
<text x="8.80" y="278.70" class="pl" text-anchor="start">D</text>
<text x="277.90" y="278.70" class="pl" text-anchor="start">E</text>
<text x="551.90" y="278.70" class="pl" text-anchor="start">F</text>
</g>
</svg>
</body></html>
